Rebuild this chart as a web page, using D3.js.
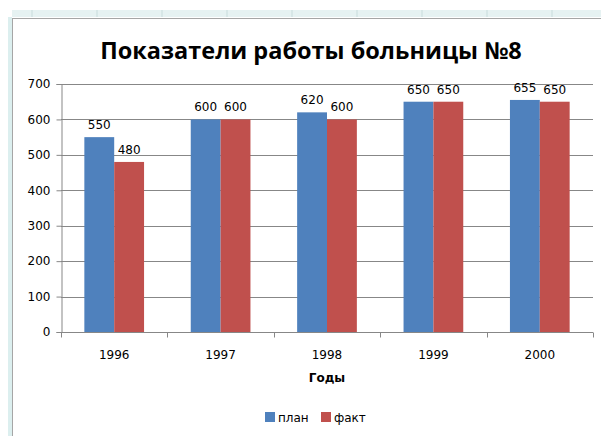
<!DOCTYPE html>
<html>
<head>
<meta charset="utf-8">
<script src="https://cdn.jsdelivr.net/npm/d3@7"></script>
<style>
  body { margin: 0; background: #fff; }
  svg { display: block; }
</style>
</head>
<body>
<div id="chart"></div>
<script>
// Данные
const years = ["1996", "1997", "1998", "1999", "2000"];
const plan = [550, 600, 620, 650, 655];
const fakt = [480, 600, 600, 650, 650];
const seriesNames = ["план", "факт"];
const seriesColors = ["#4f81bd", "#c0504d"];
const yTicks = [0, 100, 200, 300, 400, 500, 600, 700];

const width = 601;
const height = 436;
const margin = { top: 84, right: 8, bottom: 104, left: 61 };
const font = "'DejaVu Sans', sans-serif";

const svg = d3.select("#chart").append("svg")
    .attr("width", width)
    .attr("height", height);

// Рамка листа Excel (декор)
svg.append("rect").attr("x", 12).attr("y", 10).attr("width", width - 12).attr("height", 7)
    .attr("fill", "#e6f2f2");
svg.append("rect").attr("x", 8).attr("y", 17).attr("width", 4).attr("height", height - 17)
    .attr("fill", "#dcefef");
d3.range(32, width, 65).forEach(x => {
    svg.append("line").attr("x1", x).attr("x2", x).attr("y1", 10).attr("y2", 17)
        .attr("stroke", "#c8dcdc");
});
svg.append("line").attr("x1", 12).attr("x2", width).attr("y1", 18.5).attr("y2", 18.5)
    .attr("stroke", "#a6a6a6");
svg.append("line").attr("x1", 12.5).attr("x2", 12.5).attr("y1", 18).attr("y2", height)
    .attr("stroke", "#a6a6a6");

// Заголовок
svg.append("text")
    .attr("x", 311).attr("y", 59)
    .attr("text-anchor", "middle")
    .style("font-family", "'Open Sans', sans-serif")
    .style("font-size", "23.5px")
    .style("font-weight", "bold")
    .text("Показатели работы больницы №8");

const plotW = width - margin.left - margin.right;
const plotH = height - margin.top - margin.bottom;
const g = svg.append("g").attr("transform", `translate(${margin.left},${margin.top})`);

const x = d3.scaleBand().domain(years).range([0, plotW]).paddingInner(0).paddingOuter(0);
const inner = d3.scaleBand().domain(seriesNames).range([0, x.bandwidth()]).paddingOuter(0.782).paddingInner(0);
const y = d3.scaleLinear().domain([0, 700]).range([plotH, 0]);

// Сетка
g.selectAll(".grid").data(yTicks.slice(1)).enter().append("line")
    .attr("x1", 0).attr("x2", plotW)
    .attr("y1", d => Math.round(y(d)) + 0.5).attr("y2", d => Math.round(y(d)) + 0.5)
    .attr("stroke", "#878787");

// Столбцы
const rows = years.map((yr, i) => ({ year: yr, values: [plan[i], fakt[i]] }));
const groups = g.selectAll(".grp").data(rows).enter().append("g")
    .attr("transform", d => `translate(${x(d.year)},0)`);

groups.selectAll("rect").data(d => d.values.map((v, j) => ({ v, s: seriesNames[j], j })))
    .enter().append("rect")
    .attr("x", d => inner(d.s))
    .attr("y", d => y(d.v))
    .attr("width", inner.bandwidth())
    .attr("height", d => plotH - y(d.v))
    .attr("fill", d => seriesColors[d.j]);

groups.selectAll(".lbl").data(d => d.values.map((v, j) => ({ v, s: seriesNames[j] })))
    .enter().append("text")
    .attr("x", d => inner(d.s) + inner.bandwidth() / 2)
    .attr("y", d => y(d.v) - 8)
    .attr("text-anchor", "middle")
    .style("font-family", font)
    .style("font-size", "12px")
    .attr("fill", "#000")
    .text(d => d.v);

// Ось Y
const yAxis = g.append("g").attr("transform", "translate(0.5,0)")
    .call(d3.axisLeft(y).tickValues(yTicks).tickSize(5).tickPadding(6));
yAxis.select(".domain").attr("stroke", "#878787");
yAxis.selectAll(".tick line").attr("stroke", "#878787");
yAxis.selectAll("text")
    .style("font-family", font)
    .style("font-size", "12px")
    .attr("fill", "#000");

// Ось X
const xAxis = g.append("g").attr("transform", `translate(0,${plotH + 0.5})`);
xAxis.append("line").attr("x1", 0).attr("x2", plotW).attr("stroke", "#878787");
xAxis.selectAll(".tk").data(d3.range(years.length + 1)).enter().append("line")
    .attr("x1", i => Math.round(i * x.step()) + 0.5).attr("x2", i => Math.round(i * x.step()) + 0.5)
    .attr("y1", 0).attr("y2", 5)
    .attr("stroke", "#878787");
xAxis.selectAll(".xl").data(years).enter().append("text")
    .attr("x", d => x(d) + x.bandwidth() / 2)
    .attr("y", 26)
    .attr("text-anchor", "middle")
    .style("font-family", font)
    .style("font-size", "12px")
    .text(d => d);

svg.append("text")
    .attr("x", margin.left + plotW / 2).attr("y", 382)
    .attr("text-anchor", "middle")
    .style("font-family", font)
    .style("font-size", "12px")
    .style("font-weight", "bold")
    .text("Годы");

// Легенда
const legend = svg.append("g").attr("transform", "translate(265,412)");
const legendX = [0, 56];
seriesNames.forEach((name, i) => {
    legend.append("rect").attr("x", legendX[i]).attr("y", 0).attr("width", 10).attr("height", 10)
        .attr("fill", seriesColors[i]);
    legend.append("text").attr("x", legendX[i] + 13).attr("y", 10)
        .style("font-family", font)
        .style("font-size", "12px")
        .text(name);
});
</script>
</body>
</html>
